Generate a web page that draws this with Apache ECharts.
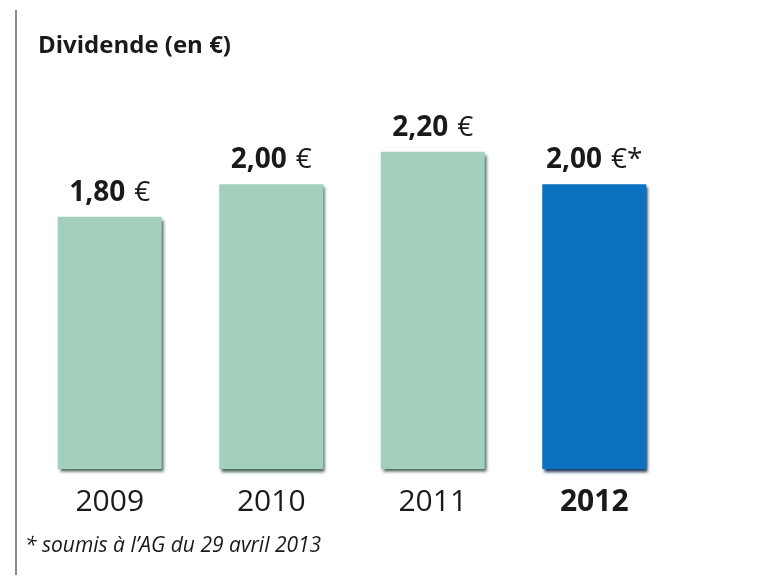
<!DOCTYPE html>
<html>
<head>
<meta charset="utf-8">
<script src="https://cdn.jsdelivr.net/npm/echarts@6/dist/echarts.min.js"></script>
<style>
  html, body { margin: 0; padding: 0; background: #fff; }
  #main { width: 769px; height: 581px; }
</style>
</head>
<body>
<div id="main"></div>
<script>
var years = ['2009', '2010', '2011', '2012'];
var dividends = [1.80, 2.00, 2.20, 2.00];
var valueLabels = ['1,80', '2,00', '2,20', '2,00'];
var suffixes = ['', '', '', '*'];

var font = '"Open Sans", "DejaVu Sans", sans-serif';
var chart = echarts.init(document.getElementById('main'));

var data = dividends.map(function (v, i) {
  var last = i === dividends.length - 1;
  return {
    value: v,
    itemStyle: {
      color: last ? '#0b72c2' : '#a3cfbd',
      shadowColor: last ? 'rgba(0,30,70,0.9)' : 'rgba(40,70,55,0.85)',
      shadowBlur: 3,
      shadowOffsetX: 2,
      shadowOffsetY: 3
    }
  };
});

chart.setOption({
  animation: false,
  title: {
    text: 'Dividende (en €)',
    left: 33,
    top: 29,
    textStyle: { fontFamily: font, fontSize: 24, fontWeight: 'bold', color: '#1a1a1a' }
  },
  grid: { left: 29, right: 94, top: 103, bottom: 112 },
  xAxis: {
    type: 'category',
    data: years,
    axisLine: { show: false },
    axisTick: { show: false },
    axisLabel: {
      interval: 0,
      margin: 18,
      fontFamily: font,
      fontSize: 30,
      color: '#1a1a1a',
      formatter: function (v, i) {
        return i === years.length - 1 ? '{b|' + v + '}' : v;
      },
      rich: { b: { fontFamily: font, fontSize: 30, fontWeight: 'bold', color: '#1a1a1a' } }
    }
  },
  yAxis: {
    type: 'value',
    min: 0.25,
    max: 2.5,
    show: false,
    splitLine: { show: false }
  },
  series: [{
    type: 'bar',
    barWidth: 104,
    data: data,
    label: {
      show: true,
      position: 'top',
      distance: 10,
      formatter: function (p) {
        return '{n|' + valueLabels[p.dataIndex] + '}{e|€' + suffixes[p.dataIndex] + '}';
      },
      rich: {
        n: { fontFamily: font, fontSize: 28, fontWeight: 'bold', color: '#1a1a1a' },
        e: { fontFamily: font, fontSize: 28, color: '#1a1a1a', padding: [0, 0, 0, 9] }
      }
    }
  }],
  graphic: [
    {
      type: 'line',
      shape: { x1: 16, y1: 10, x2: 16, y2: 575 },
      style: { stroke: '#8a8a8a', lineWidth: 2 }
    },
    {
      type: 'text',
      left: 25,
      top: 536,
      style: {
        text: '* soumis à l\u2019AG du 29 avril 2013',
        font: 'italic 21px ' + font,
        fill: '#1a1a1a'
      }
    }
  ]
});
</script>
</body>
</html>
